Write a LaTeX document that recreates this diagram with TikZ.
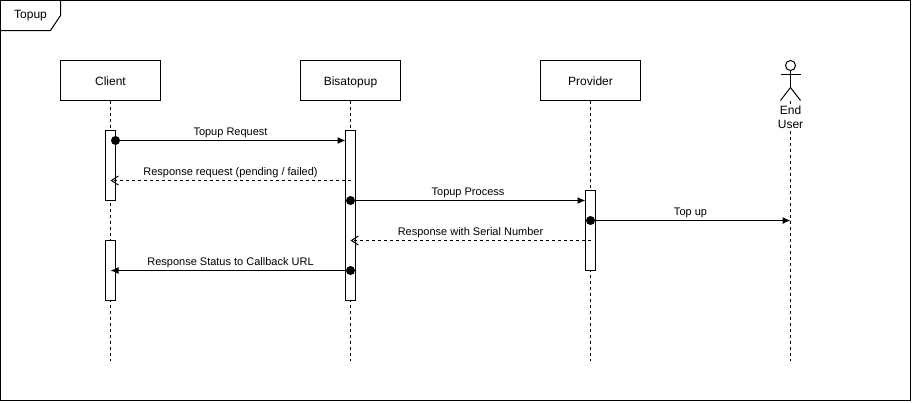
\documentclass[tikz,border=0pt]{standalone}
\usepackage{fontspec}
\setmainfont{Liberation Sans}
\usetikzlibrary{arrows.meta,positioning}
\tikzset{
    party/.style={draw, minimum width=100pt, minimum height=40pt, outer sep=0pt, text height=9pt, text depth=0pt, font=\fontsize{12}{14}\selectfont},
    bar/.style={draw, fill=white, minimum width=10pt, inner sep=0pt, outer sep=0pt},
    dotmark/.style={circle, fill=black, minimum size=9pt, inner sep=0pt, outer sep=0pt},
    lifeline/.style={dash pattern=on 3pt off 3pt},
    call/.style={-{Latex[length=8pt,width=7pt]}},
    reply/.style={dash pattern=on 3pt off 3pt, -{Straight Barb[length=7pt,width=9pt]}},
    lbl/.style={font=\fontsize{11}{13}\selectfont, above=-1pt}
}
\begin{document}
\begin{tikzpicture}[x=1pt, y=-1pt, line width=1pt, >=stealth]
            \useasboundingbox (0,0) rectangle (912,402);
            % frame and its tab
            \node[draw, minimum width=910pt, minimum height=400pt, outer sep=0pt] (frame) at (455.5,200.5) {};
            \node[font=\fontsize{12}{14}\selectfont] (title) at (30.5,16) {Topup};
            \draw (frame.north west) ++(0,-30pt) -- ++(50pt,0) -- ++(10pt,15pt) -- ++(0,15pt);

            \node[party] (client) at (110.5,80.5) {Client};
            \node[party, right=140pt of client] (bisatopup) {Bisatopup};
            \node[party, right=140pt of bisatopup] (provider) {Provider};

            % actor
            \node[draw, circle, minimum size=10pt, inner sep=0pt, outer sep=0pt] (head) at (790.5,65.5) {};
            \coordinate[below=4pt of head.south] (arms);
            \coordinate[below=17pt of head.south] (hip);
            \draw (head.south) -- (hip);
            \draw ([xshift=-10pt]arms) -- ([xshift=10pt]arms);
            \draw (hip) -- ++(-10pt,-13pt);
            \draw (hip) -- ++(10pt,-13pt);
            \coordinate (userTop) at (790.5,100.5);

            % lifelines
            \coordinate[below=260pt of client.south] (clientEnd);
            \coordinate[below=260pt of bisatopup.south] (bisatopupEnd);
            \coordinate[below=260pt of provider.south] (providerEnd);
            \coordinate[below=260pt of userTop] (userEnd);
            \draw[lifeline] (client) -- (clientEnd);
            \draw[lifeline] (bisatopup) -- (bisatopupEnd);
            \draw[lifeline] (provider) -- (providerEnd);
            \draw[lifeline] (userTop) -- (userEnd);
            \node[fill=white, inner sep=0pt, outer sep=0pt, align=center, font=\fontsize{12}{14}\selectfont, below=5pt of userTop] (user) {End\\User};

            % activations
            \node[bar, minimum height=70pt, below=30pt of client.south] (clientBarA) {};
            \node[bar, minimum height=60pt, below=140pt of client.south] (clientBarB) {};
            \node[bar, minimum height=170pt, below=30pt of bisatopup.south] (bisatopupBar) {};
            \node[bar, minimum height=80pt, below=90pt of provider.south] (providerBar) {};

            % message ends
            \node[dotmark] (startRequest) at ([yshift=-10pt]clientBarA.north east) {};
            \coordinate (tipRequest) at ([yshift=-10pt]bisatopupBar.north west);
            \coordinate (fromPending) at ([yshift=-50pt]bisatopupBar.north);
            \coordinate (tipPending) at ([yshift=-50pt]clientBarA.north);
            \node[dotmark] (startProcess) at ([yshift=-70pt]bisatopupBar.north) {};
            \coordinate (tipProcess) at ([yshift=-10pt]providerBar.north west);
            \node[dotmark] (startTop) at ([yshift=-30pt]providerBar.north) {};
            \coordinate (tipTop) at (userTop |- startTop);
            \coordinate (fromSerial) at ([yshift=-50pt]providerBar.north);
            \coordinate (tipSerial) at (bisatopupBar.north |- fromSerial);
            \node[dotmark] (startStatus) at ([yshift=-140pt]bisatopupBar.north) {};
            \coordinate (tipStatus) at (clientBarB.north |- startStatus);

            \draw[call] (startRequest.center) -- node[lbl]{Topup Request} (tipRequest);
            \draw[reply] (fromPending) -- node[lbl]{Response request (pending / failed)} (tipPending);
            \draw[call] (startProcess.center) -- node[lbl]{Topup Process} (tipProcess);
            \draw[call] (startTop.center) -- node[lbl]{Top up} (tipTop);
            \draw[reply] (fromSerial) -- node[lbl]{Response with Serial Number} (tipSerial);
            \draw[call] (startStatus.center) -- node[lbl]{Response Status to Callback URL} (tipStatus);
        \end{tikzpicture}
\end{document}
